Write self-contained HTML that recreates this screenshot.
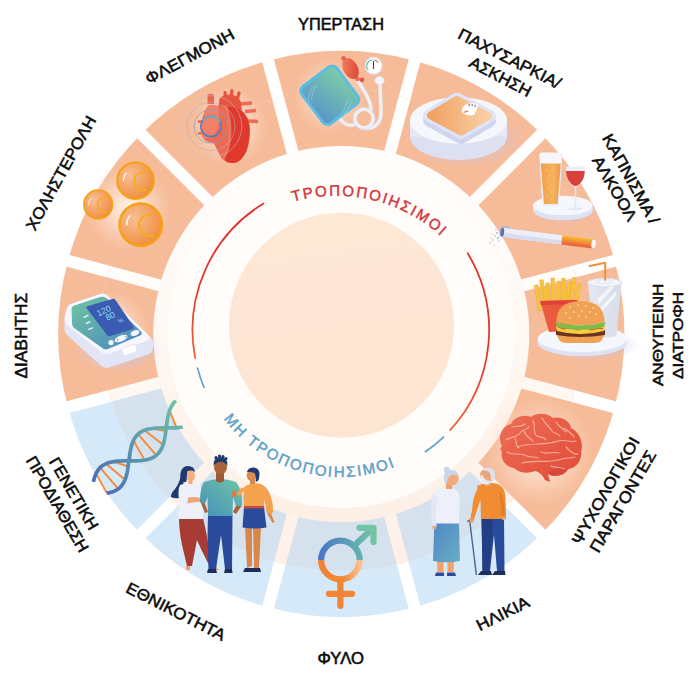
<!DOCTYPE html>
<html><head><meta charset="utf-8"><style>
html,body{margin:0;padding:0;background:#fff;}
svg{display:block;}
</style></head><body>
<svg width="698" height="683" viewBox="0 0 698 683">
<rect width="698" height="683" fill="#ffffff"/>
<path d="M268.05,60.64 A283,283 0 0 1 414.55,60.64 L380.12,189.11 A150,150 0 0 0 302.48,189.11 Z" fill="#f6bb98"/>
<path d="M414.55,60.64 A283,283 0 0 1 541.41,133.89 L447.37,227.93 A150,150 0 0 0 380.12,189.11 Z" fill="#f6bb98"/>
<path d="M541.41,133.89 A283,283 0 0 1 614.66,260.75 L486.19,295.18 A150,150 0 0 0 447.37,227.93 Z" fill="#f6bb98"/>
<path d="M614.66,260.75 A283,283 0 0 1 614.66,407.25 L486.19,372.82 A150,150 0 0 0 486.19,295.18 Z" fill="#f6bb98"/>
<path d="M614.66,407.25 A283,283 0 0 1 541.41,534.11 L447.37,440.07 A150,150 0 0 0 486.19,372.82 Z" fill="#f6bb98"/>
<path d="M541.41,534.11 A283,283 0 0 1 414.55,607.36 L380.12,478.89 A150,150 0 0 0 447.37,440.07 Z" fill="#d6e9f8"/>
<path d="M414.55,607.36 A283,283 0 0 1 268.05,607.36 L302.48,478.89 A150,150 0 0 0 380.12,478.89 Z" fill="#d6e9f8"/>
<path d="M268.05,607.36 A283,283 0 0 1 141.19,534.11 L235.23,440.07 A150,150 0 0 0 302.48,478.89 Z" fill="#d6e9f8"/>
<path d="M141.19,534.11 A283,283 0 0 1 67.94,407.25 L196.41,372.82 A150,150 0 0 0 235.23,440.07 Z" fill="#d6e9f8"/>
<path d="M67.94,407.25 A283,283 0 0 1 67.94,260.75 L196.41,295.18 A150,150 0 0 0 196.41,372.82 Z" fill="#f6bb98"/>
<path d="M67.94,260.75 A283,283 0 0 1 141.19,133.89 L235.23,227.93 A150,150 0 0 0 196.41,295.18 Z" fill="#f6bb98"/>
<path d="M141.19,133.89 A283,283 0 0 1 268.05,60.64 L302.48,189.11 A150,150 0 0 0 235.23,227.93 Z" fill="#f6bb98"/>
<g stroke="#ffffff" stroke-width="12"><line x1="356.83" y1="276.04" x2="418.95" y2="44.22"/><line x1="383.73" y1="291.57" x2="553.43" y2="121.87"/><line x1="399.26" y1="318.47" x2="631.08" y2="256.35"/><line x1="399.26" y1="349.53" x2="631.08" y2="411.65"/><line x1="383.73" y1="376.43" x2="553.43" y2="546.13"/><line x1="356.83" y1="391.96" x2="418.95" y2="623.78"/><line x1="325.77" y1="391.96" x2="263.65" y2="623.78"/><line x1="298.87" y1="376.43" x2="129.17" y2="546.13"/><line x1="283.34" y1="349.53" x2="51.52" y2="411.65"/><line x1="283.34" y1="318.47" x2="51.52" y2="256.35"/><line x1="298.87" y1="291.57" x2="129.17" y2="121.87"/><line x1="325.77" y1="276.04" x2="263.65" y2="44.22"/></g>
<defs><clipPath id="ovc"><circle cx="341.3" cy="330.0" r="241.0"/></clipPath><linearGradient id="gapg" gradientUnits="userSpaceOnUse" x1="0" y1="89" x2="0" y2="571"><stop offset="0" stop-color="#ffffff"/><stop offset="0.4" stop-color="#fffcfa"/><stop offset="0.6" stop-color="#fef8f3"/><stop offset="0.8" stop-color="#fef3ec"/><stop offset="1" stop-color="#fef0e7"/></linearGradient></defs>
<g clip-path="url(#ovc)">
<circle cx="341.3" cy="330.0" r="241.0" fill="url(#gapg)"/>
<path d="M268.05,60.64 A283,283 0 0 1 414.55,60.64 L380.12,189.11 A150,150 0 0 0 302.48,189.11 Z" fill="#f6bb98"/>
<path d="M414.55,60.64 A283,283 0 0 1 541.41,133.89 L447.37,227.93 A150,150 0 0 0 380.12,189.11 Z" fill="#f6bb98"/>
<path d="M541.41,133.89 A283,283 0 0 1 614.66,260.75 L486.19,295.18 A150,150 0 0 0 447.37,227.93 Z" fill="#f6bb98"/>
<path d="M614.66,260.75 A283,283 0 0 1 614.66,407.25 L486.19,372.82 A150,150 0 0 0 486.19,295.18 Z" fill="#f6bb98"/>
<path d="M614.66,407.25 A283,283 0 0 1 541.41,534.11 L447.37,440.07 A150,150 0 0 0 486.19,372.82 Z" fill="#f6bb98"/>
<path d="M541.41,534.11 A283,283 0 0 1 414.55,607.36 L380.12,478.89 A150,150 0 0 0 447.37,440.07 Z" fill="#d5e2ed"/>
<path d="M414.55,607.36 A283,283 0 0 1 268.05,607.36 L302.48,478.89 A150,150 0 0 0 380.12,478.89 Z" fill="#d5e2ed"/>
<path d="M268.05,607.36 A283,283 0 0 1 141.19,534.11 L235.23,440.07 A150,150 0 0 0 302.48,478.89 Z" fill="#d5e2ed"/>
<path d="M141.19,534.11 A283,283 0 0 1 67.94,407.25 L196.41,372.82 A150,150 0 0 0 235.23,440.07 Z" fill="#d5e2ed"/>
<path d="M67.94,407.25 A283,283 0 0 1 67.94,260.75 L196.41,295.18 A150,150 0 0 0 196.41,372.82 Z" fill="#f6bb98"/>
<path d="M67.94,260.75 A283,283 0 0 1 141.19,133.89 L235.23,227.93 A150,150 0 0 0 196.41,295.18 Z" fill="#f6bb98"/>
<path d="M141.19,133.89 A283,283 0 0 1 268.05,60.64 L302.48,189.11 A150,150 0 0 0 235.23,227.93 Z" fill="#f6bb98"/>
<g stroke="url(#gapg)" stroke-width="12"><line x1="356.83" y1="276.04" x2="418.95" y2="44.22"/><line x1="383.73" y1="291.57" x2="553.43" y2="121.87"/><line x1="399.26" y1="318.47" x2="631.08" y2="256.35"/><line x1="399.26" y1="349.53" x2="631.08" y2="411.65"/><line x1="383.73" y1="376.43" x2="553.43" y2="546.13"/><line x1="356.83" y1="391.96" x2="418.95" y2="623.78"/><line x1="325.77" y1="391.96" x2="263.65" y2="623.78"/><line x1="298.87" y1="376.43" x2="129.17" y2="546.13"/><line x1="283.34" y1="349.53" x2="51.52" y2="411.65"/><line x1="283.34" y1="318.47" x2="51.52" y2="256.35"/><line x1="298.87" y1="291.57" x2="129.17" y2="121.87"/><line x1="325.77" y1="276.04" x2="263.65" y2="44.22"/></g>
</g>
<defs><linearGradient id="cream" x1="0" y1="0" x2="0" y2="1"><stop offset="0" stop-color="#fffdfb"/><stop offset="0.5" stop-color="#fff8f3"/><stop offset="1" stop-color="#fdefe5"/></linearGradient><linearGradient id="redarc" x1="0" y1="0" x2="0" y2="1"><stop offset="0" stop-color="#df302b"/><stop offset="0.55" stop-color="#e2362c"/><stop offset="1" stop-color="#ef6330"/></linearGradient></defs>
<circle cx="341.3" cy="334.0" r="188" fill="url(#cream)"/>
<circle cx="341.3" cy="334.0" r="174" fill="#fffcfa"/>
<defs><linearGradient id="disc" x1="0" y1="0" x2="0.15" y2="1"><stop offset="0" stop-color="#fee9d5"/><stop offset="0.45" stop-color="#fde5d5"/><stop offset="1" stop-color="#fde6d1"/></linearGradient></defs>
<circle cx="341.5" cy="325.2" r="112.5" fill="url(#disc)"/>
<defs>
<radialGradient id="glow"><stop offset="0" stop-color="#fff6ef" stop-opacity="0.95"/><stop offset="0.55" stop-color="#fde3d3" stop-opacity="0.55"/><stop offset="1" stop-color="#fbd5bf" stop-opacity="0"/></radialGradient>
<radialGradient id="shadowB"><stop offset="0" stop-color="#b4b6e4" stop-opacity="0.75"/><stop offset="0.6" stop-color="#c3c0e6" stop-opacity="0.4"/><stop offset="1" stop-color="#d0c8e8" stop-opacity="0"/></radialGradient>
<linearGradient id="cuffG" x1="1" y1="0.35" x2="0" y2="0.65"><stop offset="0" stop-color="#7ccaa8"/><stop offset="1" stop-color="#5a98c8"/></linearGradient>
<linearGradient id="bulbG" x1="0" y1="0" x2="1" y2="1"><stop offset="0" stop-color="#f08a68"/><stop offset="1" stop-color="#dc3c2c"/></linearGradient>
<linearGradient id="scaleTop" x1="0" y1="0" x2="1" y2="0"><stop offset="0" stop-color="#f0a263"/><stop offset="1" stop-color="#f8cfa4"/></linearGradient>
<linearGradient id="beerG" x1="0" y1="0" x2="1" y2="0"><stop offset="0" stop-color="#f39c48"/><stop offset="0.6" stop-color="#f6b45e"/><stop offset="1" stop-color="#f09a48"/></linearGradient>
<linearGradient id="filterG" x1="0" y1="0" x2="0" y2="1"><stop offset="0" stop-color="#f9c033"/><stop offset="1" stop-color="#e8583c"/></linearGradient>
<linearGradient id="cupG" x1="0" y1="0" x2="1" y2="0"><stop offset="0" stop-color="#e3e7f4"/><stop offset="1" stop-color="#d7dde9"/></linearGradient>
<linearGradient id="brainG" x1="0" y1="0" x2="1" y2="1"><stop offset="0" stop-color="#ef6e55"/><stop offset="1" stop-color="#e04a38"/></linearGradient>
<linearGradient id="skirtG" x1="0" y1="0" x2="1" y2="1"><stop offset="0" stop-color="#4f86c6"/><stop offset="1" stop-color="#6aaec2"/></linearGradient>
<linearGradient id="sexTop" x1="0" y1="0" x2="1" y2="0"><stop offset="0" stop-color="#4a78c2"/><stop offset="1" stop-color="#62b0b0"/></linearGradient>
<linearGradient id="sexArrow" x1="0" y1="0" x2="1" y2="0"><stop offset="0" stop-color="#60aab2"/><stop offset="1" stop-color="#72c4a4"/></linearGradient>
<linearGradient id="sexBot" x1="0" y1="0" x2="1" y2="0"><stop offset="0" stop-color="#f08232"/><stop offset="0.6" stop-color="#f28a3c"/><stop offset="1" stop-color="#fbc08c"/></linearGradient>
<linearGradient id="shirtG" x1="0" y1="1" x2="1" y2="0"><stop offset="0" stop-color="#4690ba"/><stop offset="1" stop-color="#70c4a6"/></linearGradient>
<linearGradient id="dnaG" x1="0" y1="1" x2="1" y2="0"><stop offset="0" stop-color="#4a70b8"/><stop offset="1" stop-color="#6cc0a8"/></linearGradient>
<linearGradient id="panelG" x1="0" y1="0" x2="1" y2="1"><stop offset="0" stop-color="#70c4a0"/><stop offset="1" stop-color="#4a86c4"/></linearGradient>
<radialGradient id="bubG" cx="0.35" cy="0.35" r="0.75"><stop offset="0" stop-color="#f7bf95"/><stop offset="0.7" stop-color="#f29a55"/><stop offset="1" stop-color="#ef8a38"/></radialGradient>
<linearGradient id="heartG" x1="0" y1="0" x2="1" y2="1"><stop offset="0" stop-color="#ee7055"/><stop offset="1" stop-color="#e2352c"/></linearGradient>
</defs>
<circle cx="330" cy="96" r="38" fill="url(#glow)"/>
<circle cx="229" cy="126" r="40" fill="url(#glow)"/>
<circle cx="128" cy="208" r="44" fill="url(#glow)"/>
<circle cx="540" cy="452" r="55" fill="url(#glow)"/>
<circle cx="110" cy="330" r="40" fill="url(#glow)"/>
<g>
<g fill="none" stroke="#eef0f8" stroke-width="3.6" stroke-linecap="round"><path d="M358,81 C365,92 371,101 371,110"/><circle cx="364" cy="118.5" r="9.2"/><path d="M380,84 L381,112 C381,124 374,130 363,128"/><path d="M356,124 C350,127 344,124 340,119"/></g>
<g fill="none" stroke="#d5d9ee" stroke-width="0.8"><circle cx="364" cy="118.5" r="11"/></g>
<rect x="-21.8" y="-23.2" width="43.6" height="46.4" rx="6" transform="translate(329.8,95.2) rotate(-37)" fill="url(#cuffG)" stroke="#5cbde3" stroke-width="3"/>
<g stroke="#ffffff" stroke-opacity="0.45" stroke-width="0.6" fill="none"><path d="M314,86 C310,90 308,96 309,101"/><path d="M317,85 C313,90 311,96 312,101"/><path d="M348,100 C346,106 344,110 341,114"/><path d="M351,102 C349,107 347,111 344,115"/></g>
<ellipse cx="350.5" cy="68.5" rx="7.3" ry="11.3" transform="rotate(-28 350.5 68.5)" fill="url(#bulbG)"/>
<circle cx="343.5" cy="58.3" r="2.2" fill="#e8604a"/>
<circle cx="362" cy="79.8" r="2.4" fill="#e8553e"/>
<rect x="355.5" y="77" width="4" height="4" rx="1.2" fill="#ec6a50"/>
<circle cx="373.6" cy="65.8" r="8.4" fill="#ffffff" stroke="#e2e5f3" stroke-width="1.2"/>
<path d="M368.3,70 A6,6 0 0 1 372.5,60" fill="none" stroke="#58b89a" stroke-width="1.1"/>
<path d="M374.5,60 A6,6 0 0 1 378.2,62.5" fill="none" stroke="#e2453a" stroke-width="1.1"/>
<line x1="373.6" y1="60.8" x2="373.4" y2="69" stroke="#333a55" stroke-width="1"/>
<ellipse cx="379.5" cy="80.5" rx="4.8" ry="4" fill="#f4f5fb" stroke="#dfe2f1" stroke-width="0.7"/>
</g>
<ellipse cx="466" cy="138" rx="58" ry="30" fill="url(#shadowB)"/>
<ellipse cx="458.5" cy="136.5" rx="48.5" ry="23.5" fill="#dde0f1"/>
<rect x="410" y="120.5" width="97" height="16" fill="#e6e8f6"/>
<ellipse cx="458.5" cy="120.5" rx="48.5" ry="23.2" fill="#f6f7fc"/>
<path d="M429,115.5 L457,98.5 L490,116 L461,133 Z" fill="#d0d5ee" stroke="#d0d5ee" stroke-width="12" stroke-linejoin="round" transform="translate(0,5)"/>
<path d="M429,115.5 L457,98.5 L490,116 L461,133 Z" fill="#dfe3f5" stroke="#dfe3f5" stroke-width="12" stroke-linejoin="round"/>
<path d="M431,115.5 L457,100 L488,116 L461,131.5 Z" fill="url(#scaleTop)" stroke="url(#scaleTop)" stroke-width="8" stroke-linejoin="round"/>
<path d="M462,112.5 Q461,106 468,103.5 Q474,102 478.5,105 L474.5,114.5 Q468,117 462,112.5 Z" fill="#ffffff"/>
<g stroke="#3c4a7a" stroke-width="0.9" stroke-linecap="round"><line x1="469" y1="104.3" x2="469.3" y2="105.8"/><line x1="472" y1="104.2" x2="472.3" y2="105.7"/><line x1="475" y1="105" x2="475.2" y2="106.5"/></g>
<line x1="464.2" y1="112.2" x2="467.8" y2="111.2" stroke="#ee7a48" stroke-width="1.2" stroke-linecap="round"/>
<ellipse cx="565" cy="212" rx="33" ry="12" fill="url(#shadowB)"/>
<ellipse cx="562.9" cy="210.5" rx="29.8" ry="9.8" fill="#dfe2f2"/>
<rect x="533.1" y="205.5" width="59.6" height="5" fill="#e6e8f6"/>
<ellipse cx="562.9" cy="205.5" rx="29.8" ry="9.8" fill="#f6f7fc"/>
<path d="M539.2,155 Q539,153 541,153 L560.5,153 Q562.5,153 562.3,155 L560,192 Q559.5,196 559.5,200 L559,206 L542.5,206 L542,200 Q542,196 541.5,192 Z" fill="#eceef8"/>
<path d="M540.8,163 L560.8,163 L558.6,192 Q558,196 558,200 L557.6,204 L544,204 L543.6,200 Q543.5,196 543,192 Z" fill="url(#beerG)"/>
<path d="M540,154 Q540,152.5 542,152.5 L559.5,152.5 Q561.5,152.5 561.5,154 L561,163.5 L540.6,163.5 Z" fill="#f7f7fb"/>
<g fill="#fbe0a8"><circle cx="546" cy="170" r="0.6"/><circle cx="550" cy="175" r="0.6"/><circle cx="553" cy="168" r="0.6"/><circle cx="548" cy="182" r="0.6"/><circle cx="554" cy="186" r="0.6"/><circle cx="551" cy="192" r="0.6"/><circle cx="547" cy="196" r="0.6"/><circle cx="555" cy="178" r="0.6"/><circle cx="549" cy="188" r="0.6"/></g>
<path d="M565.8,166.5 L585,166.5 Q585.5,181 577,187 L574,187 Q565.3,181 565.8,166.5 Z" fill="#eceef8"/>
<path d="M566,171 L584.8,171 Q584.5,182 576.5,186 L574.5,186 Q566.5,182 566,171 Z" fill="#d8403a"/>
<rect x="574.7" y="187" width="1.6" height="21" fill="#e3e6f3"/>
<ellipse cx="575.5" cy="208.8" rx="7.5" ry="1.5" fill="#e3e6f3"/>
<g transform="translate(502.3,232.3) rotate(7.3)"><rect x="-3" y="-7" width="12" height="12" rx="5" fill="#9fb2dc" opacity="0.55"/><rect x="0" y="-4.6" width="62" height="9.2" fill="#eceef8"/><rect x="0" y="0.5" width="62" height="4.1" fill="#d9dcef"/><rect x="60" y="-4.6" width="32" height="9.2" fill="url(#filterG)"/><ellipse cx="92" cy="0" rx="2.2" ry="4.6" fill="#f4f4f8"/><ellipse cx="0" cy="0" rx="1.8" ry="4.6" fill="#5b6fae"/></g>
<g fill="#8aa2d8" opacity="0.8"><circle cx="497" cy="233" r="0.9"/><circle cx="495" cy="236" r="0.8"/><circle cx="498" cy="238" r="1"/><circle cx="493" cy="240" r="0.8"/><circle cx="500" cy="235" r="0.8"/><circle cx="496" cy="230" r="0.7"/><circle cx="492" cy="234" r="0.6"/><circle cx="499" cy="241" r="0.7"/><circle cx="490" cy="243" r="0.7"/><circle cx="494" cy="245" r="0.6"/><circle cx="491" cy="238" r="0.6"/><circle cx="501" cy="231" r="0.6"/></g>
<ellipse cx="590" cy="345" rx="50" ry="16" fill="url(#shadowB)"/>
<ellipse cx="582.4" cy="343" rx="44.8" ry="13.2" fill="#dfe2f2"/>
<rect x="537.6" y="338.7" width="89.6" height="4.3" fill="#e6e8f6"/>
<ellipse cx="582.4" cy="338.7" rx="44.8" ry="13.2" fill="#f6f7fc"/>
<path d="M587.8,281 L621.7,281 L616.5,336 Q604.5,339.5 593,336 Z" fill="url(#cupG)"/>
<path d="M597,300 L612,284 L614,287 L599,304 Z M598,311 L616,291 L616.5,295 L600,314 Z" fill="#ffffff" opacity="0.65"/>
<ellipse cx="604.7" cy="282.5" rx="17.2" ry="4.3" fill="#f3f4fa" stroke="#d5d9e8" stroke-width="0.7"/>
<ellipse cx="604.7" cy="281.6" rx="8" ry="2" fill="none" stroke="#d8dcea" stroke-width="0.6"/>
<polyline points="588.8,266.3 605.2,262.7 605.2,280.5" fill="none" stroke="#f0913a" stroke-width="2" stroke-linejoin="round"/>
<rect x="538" y="285" width="3.6" height="26" fill="#f7c33e" stroke="#eaa82a" stroke-width="0.4" transform="rotate(-8 538 311)"/><rect x="542" y="280" width="3.6" height="26" fill="#f7c33e" stroke="#eaa82a" stroke-width="0.4" transform="rotate(-5 542 306)"/><rect x="547" y="283" width="3.6" height="26" fill="#f7c33e" stroke="#eaa82a" stroke-width="0.4" transform="rotate(-3 547 309)"/><rect x="551" y="278" width="3.6" height="26" fill="#f7c33e" stroke="#eaa82a" stroke-width="0.4" transform="rotate(0 551 304)"/><rect x="556" y="281" width="3.6" height="26" fill="#f7c33e" stroke="#eaa82a" stroke-width="0.4" transform="rotate(2 556 307)"/><rect x="560" y="278" width="3.6" height="26" fill="#f7c33e" stroke="#eaa82a" stroke-width="0.4" transform="rotate(4 560 304)"/><rect x="565" y="282" width="3.6" height="26" fill="#f7c33e" stroke="#eaa82a" stroke-width="0.4" transform="rotate(6 565 308)"/><rect x="569" y="277" width="3.6" height="26" fill="#f7c33e" stroke="#eaa82a" stroke-width="0.4" transform="rotate(8 569 303)"/><rect x="573" y="283" width="3.6" height="26" fill="#f7c33e" stroke="#eaa82a" stroke-width="0.4" transform="rotate(10 573 309)"/><rect x="545" y="288" width="3.6" height="26" fill="#f7c33e" stroke="#eaa82a" stroke-width="0.4" transform="rotate(-4 545 314)"/><rect x="562" y="287" width="3.6" height="26" fill="#f7c33e" stroke="#eaa82a" stroke-width="0.4" transform="rotate(3 562 313)"/>
<path d="M540.2,301 L577.4,300 L571.5,331 L549,332 Z" fill="#ea5a3e"/>
<path d="M540.2,301 L577.4,300 L576.6,304 L541,305 Z" fill="#e23f3c"/>
<path d="M557,333 Q557,343 567,343 L594,343 Q604,343 604,333 Z" fill="#f0a154"/>
<path d="M556,330 Q580,337 605,330 L605,335 Q580,339 556,335 Z" fill="#6e3222"/>
<path d="M556,326 Q580,333 605,326 L604,331 Q580,337 557,331 Z" fill="#f6cf3a"/>
<path d="M558,327 L564,329 L571,328 L578,330 L585,328 L592,330 L599,328 L603,329" fill="none" stroke="#e04a3c" stroke-width="1.2"/>
<path d="M555.5,322 Q580,329 605.5,322 L604,327 Q580,333 557,327 Z" fill="#7cbc4a"/>
<path d="M556.5,322.5 Q556,301.5 580.5,301 Q605,301.5 604.5,322.5 Q580,328 556.5,322.5 Z" fill="#f0a154"/>
<g fill="#fff2dc"><ellipse cx="570" cy="307" rx="0.55" ry="1" transform="rotate(20 570 307)"/><ellipse cx="578" cy="305" rx="0.55" ry="1" transform="rotate(20 578 305)"/><ellipse cx="586" cy="306" rx="0.55" ry="1" transform="rotate(20 586 306)"/><ellipse cx="566" cy="313" rx="0.55" ry="1" transform="rotate(20 566 313)"/><ellipse cx="574" cy="312" rx="0.55" ry="1" transform="rotate(20 574 312)"/><ellipse cx="582" cy="311" rx="0.55" ry="1" transform="rotate(20 582 311)"/><ellipse cx="590" cy="312" rx="0.55" ry="1" transform="rotate(20 590 312)"/><ellipse cx="596" cy="314" rx="0.55" ry="1" transform="rotate(20 596 314)"/><ellipse cx="570" cy="318" rx="0.55" ry="1" transform="rotate(20 570 318)"/><ellipse cx="586" cy="317" rx="0.55" ry="1" transform="rotate(20 586 317)"/><ellipse cx="579" cy="316" rx="0.55" ry="1" transform="rotate(20 579 316)"/><ellipse cx="593" cy="308" rx="0.55" ry="1" transform="rotate(20 593 308)"/></g>
<path d="M502,446 C497,437 502,426 511,424 C514,417 524,414 531,417 C537,412 548,413 553,418 C561,416 570,421 571,428 C579,432 584,442 581,452 C582,461 576,468 568,469 C565,475 556,478 548,474 L550,482 L545,480 C543,476 540,472 535,471 C528,474 519,473 514,468 C506,467 500,460 502,452 C500,450 500,448 502,446 Z" fill="url(#brainG)"/>
<path d="M548,474 C552,468 562,466 568,469 C565,475 556,478 548,474 Z" fill="#d9463a"/>
<g fill="none" stroke="#f8b39a" stroke-width="1.15" stroke-linecap="round" opacity="0.95"><path d="M506,440 C511,436 517,438 520,433 C522,429 527,430 529,427"/><path d="M512,427 C517,425 521,428 525,424"/><path d="M533,420 C536,427 532,432 537,436 C540,438 544,436 546,440"/><path d="M542,418 C545,424 549,426 552,431 C554,434 558,433 560,436"/><path d="M556,422 C559,427 563,429 566,432"/><path d="M564,428 C568,431 572,433 574,437"/><path d="M518,447 C528,442 545,446 558,441 C565,439 570,443 576,441"/><path d="M507,452 C513,456 520,452 527,456 C531,458 535,456 538,458"/><path d="M522,463 C534,459 548,464 562,459 C567,457 571,459 575,457"/><path d="M566,447 C571,452 574,455 578,454"/><path d="M541,452 C547,455 553,451 559,453"/><path d="M524,431 C526,437 530,438 533,441"/><path d="M515,438 C517,442 515,446 519,448"/><path d="M551,466 C556,468 561,467 565,469"/></g>
<g>
<path d="M437,561 L443.5,561 L443.5,572 L437.5,572 Z M447.5,561 L454,561 L453.5,572 L447.5,572 Z" fill="#f3a06c"/>
<path d="M436,572.5 L444,572.5 L444,576 L435,576 Z M447,572.5 L455,572.5 L456,576 L447,576 Z" fill="#2d4c9c"/>
<path d="M434.5,522 L459,522 L460,561 Q447,563.5 433,561 Z" fill="url(#skirtG)"/>
<path d="M436,490 Q445,486 455,489 Q459.5,491 459.5,500 L459,523.5 L434.5,523.5 L433,505 Q431,497 436,490 Z" fill="#eef0f9"/>
<path d="M433.5,492 Q430.5,500 431,512 L432.5,527 L436.5,527 L436,512 L437,497 Z" fill="#e4e7f5"/>
<circle cx="434.5" cy="527.5" r="2" fill="#f3a06c"/>
<path d="M446,482 L452,482 L452,489 L446,489 Z" fill="#f0a070"/>
<circle cx="451.5" cy="478.5" r="7.2" fill="#f4ab7c"/>
<path d="M444,479 Q443,470 451,470 Q458.5,470 458.8,477 Q455,474 451,475 Q447,478 446.5,484 Q444,483 444,479 Z" fill="#c8d5ea"/>
<circle cx="446.8" cy="469.8" r="3" fill="#c8d5ea"/>
</g>
<g>
<line x1="469.8" y1="521.5" x2="476.4" y2="575" stroke="#4a6294" stroke-width="1.4"/>
<path d="M467.5,522 Q469,519 472,521" fill="none" stroke="#4a6294" stroke-width="1.4"/>
<path d="M481.5,517 L504,517 L504.5,571 L497,571 L494,535 L490,571 L482.5,571 Z" fill="#2a4b9c"/>
<path d="M481.5,517 L493,517 L492,540 L489,571 L482.5,571 Z" fill="#223f86"/>
<path d="M481,571 L491,571 L492,575 L478,575 Z M495,571 L505,571 L505.5,575 L492,575 Z" fill="#1d2e5e"/>
<path d="M477,486 Q487,481 498,484 Q505,487 505.5,497 L506,519 L481,519 L480.5,502 Z" fill="#f08c32"/>
<path d="M478,488 Q473,496 472,510 L470,520 L473.5,521 L477,510 L481,498 Z" fill="#f08c32"/>
<path d="M500,490 Q505,500 505,517 L502,517 L500,500 Z" fill="#e47d28"/>
<circle cx="471.5" cy="521" r="2" fill="#e8a070"/>
<circle cx="503.5" cy="518" r="2" fill="#e8a070"/>
<path d="M484,479 L491,479 L491,486 L484,486 Z" fill="#e8a070"/>
<circle cx="487.3" cy="475.3" r="7.2" fill="#eca476"/>
<path d="M484,468.5 Q488,467 491.5,468.5 Q495.5,471 495,476.5 Q494.5,480 492,482 L490.5,478.5 Q491.5,474 488.5,471.5 Q486,470.5 483.5,471 Z" fill="#dbe3f1"/>
<path d="M480.3,475.5 Q480.5,484 486.5,484.8 Q490.5,484.5 491.2,480.5 Q487,481.5 484.5,478.5 Q483,477 482.5,475 Z" fill="#e6ebf5"/>
</g>
<g fill="none" stroke-width="6.2" stroke-linecap="round">
<path d="M321.1,560 A19.3,19.3 0 0 1 359.7,560" stroke="url(#sexTop)" stroke-linecap="butt"/>
<path d="M359.7,560 A19.3,19.3 0 0 1 321.1,560" stroke="url(#sexBot)" stroke-linecap="butt"/>
<line x1="354.5" y1="545.5" x2="372.5" y2="528.5" stroke="url(#sexArrow)"/>
<polyline points="359.5,527.8 373.5,527.8 373.5,542" stroke="#72c4a4" stroke-linejoin="round"/>
<line x1="340.4" y1="582" x2="340.4" y2="605.8" stroke="#f08535"/>
<line x1="329" y1="593.8" x2="352" y2="593.8" stroke="#f08535"/>
</g>
<g>
<path d="M181.5,474 Q179,484 175,489 Q171,493 170.8,497 Q175,499 180,498 L184,486 Z" fill="#1f3a6e"/>
<path d="M179,518 L203,518 Q207,535 209,548 L214,566 L210,567 L201,549 L197,540 L192,566 L187,566 L182,545 Q179,530 179,518 Z" fill="#a83c35"/>
<path d="M180,485 Q190,481 199,484 Q203,488 203,500 L203,519 L178.5,519 L179,500 Q177.5,490 180,485 Z" fill="#eef0f9"/>
<path d="M188,497.5 Q196,496 203.5,498.5 L203,502.5 Q196,501 187.5,503.5 Z" fill="#f2a67a"/>
<rect x="188.5" y="479" width="4" height="5" fill="#f2a67a"/>
<ellipse cx="190.6" cy="475.8" rx="4.4" ry="5.6" fill="#f4ae80"/>
<path d="M180.5,480 Q179,466.5 188,466 Q194.5,466 194.8,472 Q191,469.5 187.2,471.5 L186.5,481.5 Q183,483.5 180.5,480 Z" fill="#1f3a6e"/>
<path d="M186,566 L190,566 L190,570 L186,570 Z" fill="#f3a06c"/>
<path d="M209,566 L214,565 L219,570 L210,570 Z" fill="#f3a06c"/>
</g>
<g>
<path d="M208,515 L232.5,515 L232,569 L225,569 L221,535 L216,569 L208.5,569 L207.5,535 Z" fill="#2a4b9c"/>
<path d="M208,569 L216,569 L217,573 L207,573 Z M225,569 L232,569 L232.5,573 L224,573 Z" fill="#1d2e5e"/>
<path d="M204,482 Q220,476 236,482 Q243,490 242,506 L236,506 L233,497 L232.5,516 L208,516 L207.5,497 L205,504 L200,502 Q200,488 204,482 Z" fill="url(#shirtG)"/>
<path d="M200.5,502 L205,504 L208,512 L205,513 Z" fill="#a8623a"/>
<path d="M236,506 L241.5,506 L236,514 L233,512 Z" fill="#a8623a"/>
<path d="M216,473 L224,473 L224,481 Q220,484 216,481 Z" fill="#9c5a34"/>
<ellipse cx="220.5" cy="467" rx="6.5" ry="7.5" fill="#a8623a"/>
<path d="M213.5,466 Q213,457 220.5,457 Q228,457 227.5,466 Q224,461 220,462 Q216,462 213.5,466 Z" fill="#1f3a6e"/>
<g fill="#1f3a6e"><circle cx="216" cy="457.5" r="1.6"/><circle cx="219.5" cy="456" r="1.6"/><circle cx="223" cy="456.5" r="1.6"/><circle cx="226" cy="458.5" r="1.5"/></g>
</g>
<g>
<path d="M245,527 L252,527 L252,566 L247,568 Z M253,527 L261,527 L259,568 L254,568 Z" fill="#d9874a"/>
<path d="M245,568 L253,568 L253,572 L243,572 Z M253,568 L260,568 L261,572 L252,572 Z" fill="#1d2e5e"/>
<path d="M244,507 L264,507 L266.5,527.5 Q255,529.5 242.5,527.5 Z" fill="#2a4b9c"/>
<path d="M244,505.5 L264,505.5 L264.2,508.5 L243.8,508.5 Z" fill="#c84a3a"/>
<path d="M266,508 L270.5,512 L274.5,522 L272.5,523 L267,513 Z" fill="#d9874a"/>
<path d="M244,487 Q252,481.5 261,484 Q268,487 271,497 Q273.5,505 273,512.5 Q270,514 267,513 L264.5,500 L264,506 L244,506 L243.5,496 Z" fill="#f3a24e"/>
<path d="M245,489 L240,496 L236.5,494.5 L237,492.5 L241.5,487.5 Z" fill="#f3a24e"/>
<rect x="232.3" y="491" width="4" height="6" rx="0.8" fill="#e8763a"/>
<path d="M250,476 L255,476 L255,484 L250,484 Z" fill="#d9874a"/>
<ellipse cx="251.5" cy="475.5" rx="4.8" ry="5.6" fill="#dd8c50"/>
<path d="M247,472 Q248,467.5 253.5,467.5 Q259.5,468 259.5,474.5 Q259.5,479 257.5,481.5 L255.5,481.5 Q256.5,476 254.5,473 Q251,471.5 247,472 Z" fill="#1f3a6e"/>
</g>
<linearGradient id="dnaG2" gradientUnits="userSpaceOnUse" x1="95" y1="490" x2="180" y2="405"><stop offset="0" stop-color="#4a6cb6"/><stop offset="1" stop-color="#6cc2a8"/></linearGradient>
<g stroke="#f28a38" stroke-width="1.9"><line x1="96.07" y1="473.59" x2="106.84" y2="493.15"/><line x1="100.15" y1="467.64" x2="118.12" y2="488.98"/><line x1="106.02" y1="463.7" x2="124.98" y2="479.83"/><line x1="113.54" y1="461.63" x2="128.17" y2="466.51"/><line x1="130.93" y1="448.09" x2="130.31" y2="460.9"/><line x1="133.51" y1="440.42" x2="144.57" y2="460.12"/><line x1="138.01" y1="434.18" x2="156.36" y2="455.33"/><line x1="144.55" y1="430.25" x2="163.08" y2="444.81"/><line x1="152.31" y1="428.47" x2="165.86" y2="431.03"/><line x1="169.66" y1="410.33" x2="176.45" y2="427.73"/></g>
<path d="M106.68,493.17 L108.14,492.93 L109.57,492.64 L110.94,492.29 L112.27,491.89 L113.55,491.44 L114.77,490.92 L115.94,490.34 L117.05,489.7 L118.11,488.99 L119.1,488.22 L120.04,487.38 L120.92,486.47 L121.75,485.5 L122.51,484.47 L123.22,483.37 L123.87,482.2 L124.48,480.98 L125.03,479.71 L125.53,478.37 L125.99,476.99 L126.4,475.56 L126.78,474.08 L127.12,472.56 L127.43,471.01 L127.71,469.43 L127.97,467.82 L128.21,466.19 L128.44,464.54 L128.65,462.88 L128.86,461.21 L129.07,459.55 L129.28,457.89 L129.5,456.23 L129.74,454.59 L129.99,452.98 L130.26,451.38 L130.56,449.82 L130.89,448.29 L131.25,446.8 L131.65,445.35 L132.09,443.94 L132.58,442.59 L133.11,441.29 L133.69,440.05 L134.33,438.87 L135.02,437.74 L135.76,436.68 L136.56,435.69 L137.42,434.76 L138.34,433.89 L139.31,433.09 L140.34,432.36 L141.43,431.69 L142.58,431.09 L143.78,430.55 L145.04,430.07 L146.35,429.65 L147.71,429.29 L149.11,428.98 L150.56,428.72 L152.05,428.5 L153.58,428.33 L155.14,428.19 L156.73,428.09 L158.35,428.02 L159.99,427.98 L161.64,427.95 L163.31,427.94 L164.99,427.93 L166.67,427.93 L168.35,427.93 L170.02,427.92 L171.68,427.9 L173.33,427.87 L174.96,427.81 L176.56,427.72 L178.14,427.61 L179.68,427.46 L181.19,427.26 L182.66,427.02" fill="none" stroke="url(#dnaG2)" stroke-width="3.7"/>
<path d="M93.39,481.9 L93.8,480.17 L94.25,478.5 L94.75,476.89 L95.31,475.34 L95.94,473.87 L96.63,472.47 L97.39,471.14 L98.22,469.91 L99.13,468.75 L100.11,467.68 L101.17,466.7 L102.31,465.8 L103.52,465 L104.81,464.27 L106.17,463.63 L107.6,463.07 L109.1,462.59 L110.67,462.18 L112.29,461.84 L113.98,461.57 L115.71,461.35 L117.49,461.19 L119.31,461.07 L121.17,460.99 L123.05,460.94 L124.96,460.91 L126.87,460.9 L128.8,460.9 L130.73,460.9 L132.65,460.89 L134.55,460.87 L136.44,460.82 L138.29,460.74 L140.12,460.63 L141.9,460.47 L143.64,460.26 L145.33,459.99 L146.97,459.66 L148.54,459.26 L150.05,458.78 L151.49,458.23 L152.86,457.6 L154.15,456.88 L155.37,456.08 L156.52,455.2 L157.58,454.22 L158.57,453.16 L159.49,452.02 L160.33,450.79 L161.1,449.47 L161.79,448.08 L162.43,446.62 L162.99,445.08 L163.5,443.47 L163.96,441.81 L164.37,440.08 L164.73,438.31 L165.06,436.5 L165.35,434.65 L165.62,432.78 L165.88,430.88 L166.12,428.98 L166.36,427.06 L166.6,425.16 L166.85,423.26 L167.12,421.38 L167.42,419.53 L167.74,417.71 L168.1,415.94 L168.5,414.21 L168.95,412.54 L169.46,410.93 L170.02,409.39 L170.65,407.91 L171.34,406.51 L172.1,405.19 L172.93,403.95 L173.84,402.8 L174.82,401.73 L175.88,400.75" fill="none" stroke="url(#dnaG2)" stroke-width="3.7"/>
<ellipse cx="118" cy="350" rx="44" ry="22" fill="url(#shadowB)"/>
<path d="M66.6,309.4 Q67,305 72.3,303.6 L99.5,294.3 Q103.5,293 106.7,295 L149.7,336.6 Q153.3,340 153.3,344 L152.6,350 Q152,353 148,354.5 L109,367.5 Q105.3,368.8 102,366.5 L67,335 Q64.4,332.5 64.4,329 L64.4,319.4 Q64.5,312 66.6,309.4 Z" fill="#e2e5f5"/>
<path d="M67,309 Q68,305 72.3,303.6 L99.5,294.3 Q103.5,293 106.7,295 L148.5,335 Q151,338.5 148,340.5 L109,353.5 Q105.3,354.5 102,352.5 L67,325 Q64.5,323 64.6,319.5 Z" fill="#f6f7fc"/>
<path d="M73,306 L100,297 Q104,296 107,298.5 L141,331.5 Q143,334 140,335.5 L108,349 Q105.3,350 103,348.5 L74,328 Q72,326.5 72,323 L71.5,309 Q71.8,306.8 73,306 Z" fill="url(#panelG)"/>
<path d="M87.5,306.3 L113,298.8 Q114.5,298.5 115.5,300 L133.5,326.5 Q134.5,328.5 132.5,329.2 L109.5,336.2 Q108,336.6 107.2,335.2 L86.5,308 Q86.3,306.8 87.5,306.3 Z" fill="#3b5bb0"/>
<g fill="#8fdcf2" font-family="Liberation Sans, sans-serif" text-anchor="middle"><text transform="translate(105,313.5) rotate(-25)" font-size="8.6">120</text><text transform="translate(111.5,318.8) rotate(-25)" font-size="8.6">80</text><text transform="translate(121.5,322.5) rotate(-25)" font-size="6">%</text></g>
<g fill="#ffffff" opacity="0.85"><rect x="83" y="317" width="5.5" height="1.5" transform="rotate(-25 83 317)"/><rect x="85.5" y="323" width="5" height="1.5" transform="rotate(-25 85.5 323)"/><rect x="88" y="329" width="5" height="1.4" transform="rotate(-25 88 329)"/></g>
<g fill="#f4f6fc"><circle cx="111" cy="342.6" r="2.6"/><ellipse cx="121" cy="338.5" rx="7" ry="3" transform="rotate(-22 121 338.5)"/><ellipse cx="135" cy="333" rx="4.5" ry="2.6" transform="rotate(-22 135 333)"/></g>
<g fill="#3b7ec4"><circle cx="117.5" cy="340" r="0.7"/><circle cx="126" cy="336.8" r="0.7"/></g>
<rect x="122" y="346" width="15" height="8" rx="3" transform="rotate(-20 129.5 350)" fill="#ffffff" stroke="#d6daee" stroke-width="0.6"/>
<circle cx="98.2" cy="204.5" r="14.3" fill="url(#bubG)" stroke="#f5a215" stroke-width="1.72"/>
<path d="M107.18,197.8 A7.44,7.44 0 1 0 107.18,211.77" fill="none" stroke="#f5ad1e" stroke-width="1.43"/>
<path d="M88.77,204.83 A9.44,9.44 0 0 1 91.19,198.18" fill="none" stroke="#ffffff" stroke-width="1" opacity="0.9"/>
<circle cx="135.5" cy="180.7" r="18.2" fill="url(#bubG)" stroke="#f5a215" stroke-width="2.18"/>
<path d="M146.93,172.17 A9.46,9.46 0 1 0 146.93,189.96" fill="none" stroke="#f5ad1e" stroke-width="1.82"/>
<path d="M123.5,181.12 A12.01,12.01 0 0 1 126.57,172.66" fill="none" stroke="#ffffff" stroke-width="1.27" opacity="0.9"/>
<circle cx="140.7" cy="224.7" r="21.2" fill="url(#bubG)" stroke="#f5a215" stroke-width="2.54"/>
<path d="M154.01,214.76 A11.02,11.02 0 1 0 154.01,235.48" fill="none" stroke="#f5ad1e" stroke-width="2.12"/>
<path d="M126.72,225.19 A13.99,13.99 0 0 1 130.3,215.34" fill="none" stroke="#ffffff" stroke-width="1.48" opacity="0.9"/>
<g>
<path d="M207.5,104 L207.5,95 Q210.5,92.5 214,95 L214,104 Z" fill="#ec6450"/>
<g stroke="#e9523e" stroke-width="3.2" stroke-linecap="round" fill="none"><line x1="225.8" y1="98" x2="225" y2="92.5"/><line x1="231.5" y1="97" x2="231.8" y2="90.5"/><line x1="237.5" y1="98.5" x2="239" y2="93"/></g>
<g stroke="#ef6a55" stroke-width="3.6" fill="none"><line x1="240" y1="104" x2="252" y2="103"/><line x1="245" y1="111.5" x2="256" y2="110.5"/><line x1="248" y1="121" x2="258" y2="121.5"/></g>
<g stroke="#ea5843" stroke-width="2.2" fill="none"><line x1="198" y1="121.5" x2="204" y2="121.5"/><line x1="198" y1="133.5" x2="204" y2="133"/></g>
<path d="M218,108 L219.5,99 Q222,94.5 229,94.5 Q238,94.5 240.5,101 L242,110 Z" fill="#e8553e"/>
<path d="M218.3,106.6 Q230,104 240.3,109.5 Q249,116 249.8,128.6 Q250,142 246.1,152 Q241,162 234.4,163 Q225,164 220.5,156.4 Q216.5,149 213.9,143.2 Q207,142.5 203.7,138.8 Q200.5,134 201.5,128.6 Q201,120 203.7,113.9 Q206,107 209.5,105.1 Q214,104 218.3,106.6 Z" fill="#ed6a52"/>
<path d="M227,106.5 Q235,106 240.3,109.5 Q249,116 249.8,128.6 Q250,142 246.1,152 Q241,162 234.4,163 Q228,163.5 224.5,159.5 Q231,150 231.5,132 Q231.5,115 227,106.5 Z" fill="#e0392e"/>
<path d="M225.5,107 Q230,118 229.5,134 Q229,150 223,159" fill="none" stroke="#f28a72" stroke-width="0.9" opacity="0.8"/>
<path d="M203.7,113.9 Q206,107 209.5,105.1 Q214,104 218.3,106.6 Q220,118 218,128 Q214,138 203.7,138.8 Q200.5,134 201.5,128.6 Q201,120 203.7,113.9 Z" fill="#f28068"/>
<g fill="none"><circle cx="211" cy="126.4" r="10.2" stroke="#4a80c8" stroke-width="1.5"/><path d="M203,120.5 A10.2,10.2 0 0 1 220,121.5" stroke="#5ab8c0" stroke-width="1.5"/><circle cx="211" cy="126.4" r="16.8" stroke="#7f9fd0" stroke-width="0.9" stroke-opacity="0.85"/><circle cx="211" cy="126.4" r="24" stroke="#a3b4d8" stroke-width="0.8" stroke-opacity="0.7"/><circle cx="211" cy="126.4" r="30.8" stroke="#c3c8dc" stroke-width="0.8" stroke-opacity="0.6"/></g>
</g>
<g fill="none" stroke-width="1.75" stroke-linecap="round"><path d="M263.53,203.42 A148.3,148.3 0 0 0 195.18,358.04" stroke="url(#redarc)"/><path d="M467.65,253.18 A148.3,148.3 0 0 1 450.14,430.19" stroke="url(#redarc)"/><path d="M197.49,368.13 A148.3,148.3 0 0 0 204.09,387.47" stroke="#5ba6c9"/><path d="M425.44,451.78 A148.3,148.3 0 0 0 443.44,437.04" stroke="#5ba6c9"/></g>
<defs><path id="tp1" d="M293.05,201.75 A156.2,156.2 0 0 1 440.62,235.82"/><path id="tp2" d="M223.71,418.88 A147,147 0 0 0 394.44,466.87"/></defs>
<text font-family="Liberation Sans, sans-serif" font-size="15" fill="#d3363d" stroke="#d3363d" stroke-width="0.45"><textPath href="#tp1" textLength="158.12" lengthAdjust="spacing">ΤΡΟΠΟΠΟΙΗΣΙΜΟΙ</textPath></text>
<text font-family="Liberation Sans, sans-serif" font-size="15" fill="#5aa0c8" stroke="#5aa0c8" stroke-width="0.45"><textPath href="#tp2" textLength="190.37" lengthAdjust="spacing">ΜΗ ΤΡΟΠΟΠΟΙΗΣΙΜΟΙ</textPath></text>
<g font-family="Liberation Sans, sans-serif" fill="#0b0b0b" stroke="#0b0b0b" stroke-width="0.55" text-anchor="middle"><text transform="translate(341,23.7) rotate(0)" y="5.85" font-size="16.05" textLength="86" lengthAdjust="spacingAndGlyphs">ΥΠΕΡΤΑΣΗ</text>
<text transform="translate(189.5,56.2) rotate(-28.5)" y="5.85" font-size="16.05" textLength="98.5" lengthAdjust="spacingAndGlyphs">ΦΛΕΓΜΟΝΗ</text>
<text transform="translate(60.7,172.8) rotate(-61)" y="5.85" font-size="16.05" textLength="127.5" lengthAdjust="spacingAndGlyphs">ΧΟΛΗΣΤΕΡΟΛΗ</text>
<text transform="translate(21.1,335.7) rotate(-90)" y="6.15" font-size="16.87" textLength="85.7" lengthAdjust="spacingAndGlyphs">ΔΙΑΒΗΤΗΣ</text>
<text transform="translate(74.1,493.5) rotate(59.5)" y="5.85" font-size="16.05" textLength="81" lengthAdjust="spacingAndGlyphs">ΓΕΝΕΤΙΚΗ</text>
<text transform="translate(57.7,504) rotate(59.7)" y="5.85" font-size="16.05" textLength="108" lengthAdjust="spacingAndGlyphs">ΠΡΟΔΙΑΘΕΣΗ</text>
<text transform="translate(176,611.2) rotate(27)" y="5.85" font-size="16.05" textLength="109" lengthAdjust="spacingAndGlyphs">ΕΘΝΙΚΟΤΗΤΑ</text>
<text transform="translate(340.8,657.9) rotate(0)" y="5.7" font-size="15.64" textLength="46.4" lengthAdjust="spacingAndGlyphs">ΦΥΛΟ</text>
<text transform="translate(502.6,613.3) rotate(-26.6)" y="5.85" font-size="16.05" textLength="57" lengthAdjust="spacingAndGlyphs">ΗΛΙΚΙΑ</text>
<text transform="translate(605.3,490.6) rotate(-60.4)" y="5.85" font-size="16.05" textLength="120.5" lengthAdjust="spacingAndGlyphs">ΨΥΧΟΛΟΓΙΚΟΙ</text>
<text transform="translate(622.5,501.2) rotate(-59.6)" y="5.85" font-size="16.05" textLength="115" lengthAdjust="spacingAndGlyphs">ΠΑΡΑΓΟΝΤΕΣ</text>
<text transform="translate(657,334.8) rotate(-90)" y="5.65" font-size="15.5" textLength="102.4" lengthAdjust="spacingAndGlyphs">ΑΝΘΥΓΙΕΙΝΗ</text>
<text transform="translate(677,335.4) rotate(-90)" y="5.65" font-size="15.5" textLength="87" lengthAdjust="spacingAndGlyphs">ΔΙΑΤΡΟΦΗ</text>
<text transform="translate(631.2,178.6) rotate(61)" y="5.85" font-size="16.05" textLength="100" lengthAdjust="spacingAndGlyphs">ΚΑΠΝΙΣΜΑ /</text>
<text transform="translate(615,188.4) rotate(59.5)" y="5.85" font-size="16.05" textLength="72" lengthAdjust="spacingAndGlyphs">ΑΛΚΟΟΛ</text>
<text transform="translate(509.8,58.2) rotate(27)" y="5.85" font-size="16.05" textLength="113" lengthAdjust="spacingAndGlyphs">ΠΑΧΥΣΑΡΚΙΑ/</text>
<text transform="translate(500.6,76.5) rotate(27.5)" y="5.85" font-size="16.05" textLength="67.5" lengthAdjust="spacingAndGlyphs">ΑΣΚΗΣΗ</text></g>
</svg>
</body></html>
